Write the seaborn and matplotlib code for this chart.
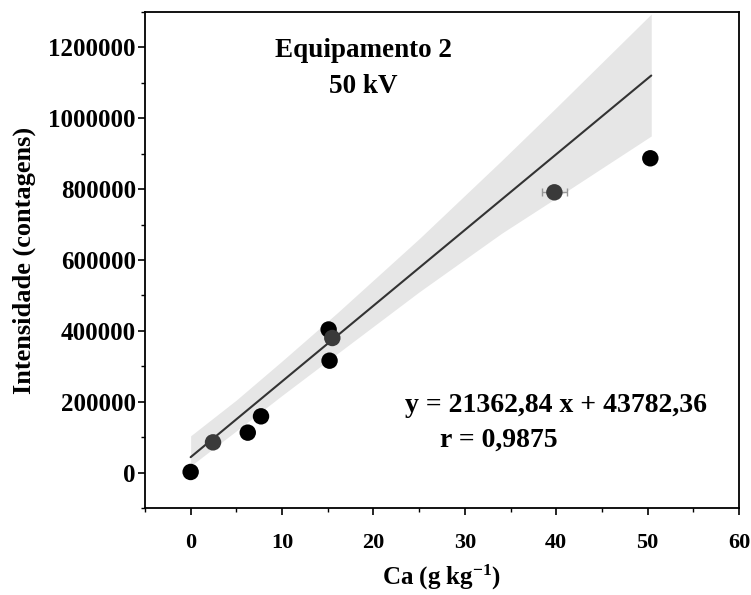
import numpy as np
import pandas as pd
import matplotlib
matplotlib.use("Agg")
import matplotlib.pyplot as plt
import seaborn as sns
from matplotlib.ticker import MultipleLocator

# ---- data ----
ca = [0.0, 2.45, 6.25, 7.7, 15.1, 15.2, 15.5, 39.8, 50.3]
intensity = [2000, 85600, 113000, 159000, 404000, 316000, 380000, 791000, 887000]
shade = ["black", "gray", "black", "black", "black", "black", "gray", "gray", "black"]
ca_err = [0, 0, 0, 0, 0, 0, 0, 1.4, 0]

slope = 21362.84
intercept = 43782.36
fit_x = [0.0, 50.4]

ci_x = [0, 5, 10, 16, 25, 34, 40, 50.4]
ci_upper = [104000, 205000, 315000, 450000, 660000, 880000, 1030000, 1294000]
ci_lower = [19000, 118000, 218000, 335000, 510000, 675000, 775000, 950000]

eq_text = "y = 21362,84 x + 43782,36"
r_text = "r = 0,9875"
title_lines = ["Equipamento 2", "50 kV"]

# ---- figure ----
sns.set_theme(style="ticks")
plt.rcParams["font.family"] = ["Liberation Serif", "DejaVu Serif"]
plt.rcParams["font.weight"] = "bold"
plt.rcParams["mathtext.fontset"] = "custom"
plt.rcParams["mathtext.rm"] = "Liberation Serif:bold"
plt.rcParams["mathtext.bf"] = "Liberation Serif:bold"
plt.rcParams["mathtext.default"] = "rm"
for key in ["text.color", "axes.labelcolor", "xtick.color", "ytick.color"]:
    plt.rcParams[key] = "black"

fig = plt.figure(figsize=(7.51, 5.95), dpi=100)
ax = fig.add_axes([0.193, 0.146, 0.791, 0.834])

ax.fill_between(ci_x, ci_lower, ci_upper, color="#e6e6e6", linewidth=0, zorder=1)

line_df = pd.DataFrame({"x": fit_x, "y": [slope * v + intercept for v in fit_x]})
sns.lineplot(data=line_df, x="x", y="y", ax=ax, color="#333333", linewidth=1.5, zorder=2)

df = pd.DataFrame({"ca": ca, "intensity": intensity, "shade": shade, "err": ca_err})
err_df = df[df["err"] > 0]
ax.errorbar(err_df["ca"], err_df["intensity"], xerr=err_df["err"], fmt="none",
            ecolor="#999999", elinewidth=1.0, capsize=3, zorder=3)
sns.scatterplot(data=df, x="ca", y="intensity", hue="shade",
                palette={"black": "#000000", "gray": "#3a3a3a"},
                s=140, edgecolor="none", legend=False, ax=ax, zorder=4)

ax.set_xlim(-5, 60)
ax.set_ylim(-100000, 1300000)
ax.xaxis.set_major_locator(MultipleLocator(10))
ax.xaxis.set_minor_locator(MultipleLocator(5))
ax.yaxis.set_major_locator(MultipleLocator(200000))
ax.yaxis.set_minor_locator(MultipleLocator(100000))
ax.yaxis.set_major_formatter(matplotlib.ticker.FuncFormatter(lambda v, p: f"{int(round(v))}"))

ax.tick_params(axis="both", which="major", direction="out", length=5, width=1.2, color="black")
ax.tick_params(axis="x", which="major", pad=13, labelsize=16)
ax.tick_params(axis="y", which="major", pad=1.5, labelsize=18)
ax.tick_params(axis="both", which="minor", direction="out", length=3, width=1.0, color="black")
for lab in ax.get_xticklabels() + ax.get_yticklabels():
    lab.set_fontweight("bold")

for sp in ax.spines.values():
    sp.set_visible(True)
    sp.set_color("black")
    sp.set_linewidth(1.3)

ax.set_xlabel("Ca (g kg$^{-1}$)", fontsize=18, fontweight="bold", labelpad=7)
ax.set_ylabel("Intensidade (contagens)", fontsize=19, fontweight="bold", labelpad=9)

ax.text(0.367, 0.923, title_lines[0], transform=ax.transAxes, ha="center", va="center",
        fontsize=19.5, fontweight="bold")
ax.text(0.367, 0.849, title_lines[1], transform=ax.transAxes, ha="center", va="center",
        fontsize=19.5, fontweight="bold")
ax.text(0.4375, 0.2077, eq_text, transform=ax.transAxes, ha="left", va="center",
        fontsize=20, fontweight="bold")
ax.text(0.496, 0.137, r_text, transform=ax.transAxes, ha="left", va="center",
        fontsize=20, fontweight="bold")

fig.savefig("out.png", dpi=100)
